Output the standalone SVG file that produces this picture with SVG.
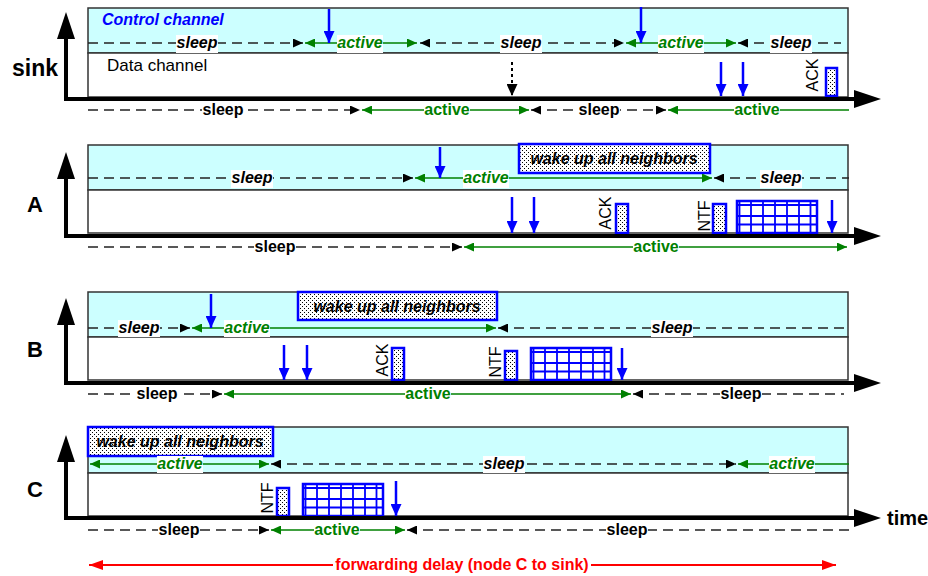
<svg xmlns="http://www.w3.org/2000/svg" xmlns:xlink="http://www.w3.org/1999/xlink" width="928" height="576" viewBox="0 0 928 576">
<defs>
<style>
text{font-family:"Liberation Sans",Arial,Helvetica,sans-serif;}
.cy{fill:#ccffff;stroke:#333;stroke-width:1.5}
.wh{fill:#fff;stroke:#333;stroke-width:1.5}
.d{stroke:#222;stroke-width:1.6;stroke-dasharray:10 6;fill:none}
.g{stroke:#008000;stroke-width:1.6;fill:none}
.bl{stroke:#0000ff;stroke-width:2.5;fill:none;marker-end:url(#mb)}
.ax{stroke:#000;stroke-width:4;fill:none;marker-start:url(#max);marker-end:url(#max)}
.bg{fill:#fff}
.box{fill:url(#dots);stroke:#0000ff;stroke-width:2.5}
.ls{font-size:16px;font-weight:bold;font-style:italic;fill:#000;text-anchor:middle}
.la{font-size:16px;font-weight:bold;font-style:italic;fill:#008000;text-anchor:middle}
.ts{font-size:16px;font-weight:bold;fill:#000;text-anchor:middle}
.ta{font-size:16px;font-weight:bold;fill:#008000;text-anchor:middle}
.nm{font-size:22px;font-weight:bold;fill:#000;text-anchor:middle}
.rt{font-size:16px;fill:#000;text-anchor:middle}
.wk{font-size:16px;font-weight:bold;font-style:italic;fill:#000;text-anchor:middle}
</style>
<pattern id="dots" width="4" height="4" patternUnits="userSpaceOnUse">
<rect width="4" height="4" fill="#fff"/>
<rect x="0" y="0" width="1" height="1" fill="#000"/>
<rect x="2" y="2" width="1" height="1" fill="#000"/>
</pattern>
<marker id="mk" viewBox="0 0 10 9" markerWidth="10" markerHeight="9" refX="10" refY="4.5" orient="auto-start-reverse" markerUnits="userSpaceOnUse"><path d="M0,0L10,4.5L0,9z" fill="#000"/></marker>
<marker id="mg" viewBox="0 0 10 9" markerWidth="10" markerHeight="9" refX="10" refY="4.5" orient="auto-start-reverse" markerUnits="userSpaceOnUse"><path d="M0,0L10,4.5L0,9z" fill="#008000"/></marker>
<marker id="mb" viewBox="0 0 12 11" markerWidth="12" markerHeight="11" refX="12" refY="5.5" orient="auto" markerUnits="userSpaceOnUse"><path d="M0,0L12,5.5L0,11z" fill="#0000ff"/></marker>
<marker id="mkd" viewBox="0 0 12 11" markerWidth="12" markerHeight="11" refX="12" refY="5.5" orient="auto" markerUnits="userSpaceOnUse"><path d="M0,0L12,5.5L0,11z" fill="#000"/></marker>
<marker id="mr" viewBox="0 0 14 10" markerWidth="14" markerHeight="10" refX="14" refY="5" orient="auto-start-reverse" markerUnits="userSpaceOnUse"><path d="M0,0L14,5L0,10z" fill="#ff0000"/></marker>
<marker id="max" viewBox="0 0 27 18" markerWidth="27" markerHeight="18" refX="17" refY="9" orient="auto-start-reverse" markerUnits="userSpaceOnUse"><path d="M0,0L27,9L0,18z" fill="#000"/></marker>
<g id="grid">
<rect x="0" y="0" width="80" height="32" fill="#fff" stroke="#0000ff" stroke-width="2.5"/>
<path d="M2.5,0V32M14,0V32M26,0V32M38,0V32M50,0V32M62,0V32M73.5,0V32M0,4H80M0,15H80M0,23.5H80" stroke="#0000ff" stroke-width="1.8" fill="none"/>
</g>
</defs>

<g id="sink">
<rect class="cy" x="88" y="8" width="760" height="45"/>
<rect class="wh" x="88" y="53" width="760" height="44"/>
<text class="nm" x="35" y="76" style="font-size:23px">sink</text>
<text x="102" y="25" style="font-size:16px;font-weight:bold;font-style:italic;fill:#0000ff">Control channel</text>
<text x="107" y="71" style="font-size:17px;fill:#000">Data channel</text>
<text class="rt" transform="translate(818,75) rotate(-90)">ACK</text>
<rect class="box" x="826" y="68" width="11" height="28"/>
</g>

<g id="nodeA">
<rect class="cy" x="88" y="145" width="760" height="45"/>
<rect class="wh" x="88" y="190" width="760" height="43"/>
<text class="nm" x="35" y="212">A</text>
<rect class="box" x="519" y="144" width="191" height="29"/>
<text class="wk" x="614" y="164">wake up all neighbors</text>
<text class="rt" transform="translate(611,213) rotate(-90)">ACK</text>
<rect class="box" x="616" y="204" width="12" height="29"/>
<text class="rt" transform="translate(710,216) rotate(-90)">NTF</text>
<rect class="box" x="713" y="204" width="13" height="29"/>
<use xlink:href="#grid" href="#grid" x="737" y="201"/>
</g>

<g id="nodeB">
<rect class="cy" x="88" y="292" width="760" height="45"/>
<rect class="wh" x="88" y="337" width="760" height="43"/>
<text class="nm" x="35" y="357">B</text>
<rect class="box" x="298" y="292" width="199" height="28"/>
<text class="wk" x="397" y="312">wake up all neighbors</text>
<text class="rt" transform="translate(388,360) rotate(-90)">ACK</text>
<rect class="box" x="392" y="348" width="12" height="32"/>
<text class="rt" transform="translate(501,362) rotate(-90)">NTF</text>
<rect class="box" x="505" y="351" width="12" height="29"/>
<use xlink:href="#grid" href="#grid" x="531" y="348"/>
</g>

<g id="nodeC">
<rect class="cy" x="88" y="427" width="760" height="46"/>
<rect class="wh" x="88" y="473" width="760" height="43"/>
<text class="nm" x="35" y="497">C</text>
<rect class="box" x="88" y="427" width="185" height="29"/>
<text class="wk" x="180" y="447">wake up all neighbors</text>
<text class="rt" transform="translate(273,498) rotate(-90)">NTF</text>
<rect class="box" x="277" y="488" width="12" height="28"/>
<use xlink:href="#grid" href="#grid" x="303" y="484"/>
</g>

<g id="connectors">
<path class="ax" d="M66,22V99H871"/>
<path class="ax" d="M66,162V236H871"/>
<path class="ax" d="M66,308V383H871"/>
<path class="ax" d="M66,445V518H871"/>
<text x="887" y="525" style="font-size:20px;font-weight:bold;fill:#000">time</text>

<path class="d" d="M88,43H303" marker-end="url(#mk)"/>
<path class="g" d="M305,43H417" marker-start="url(#mg)" marker-end="url(#mg)"/>
<path class="d" d="M420,43H624" marker-start="url(#mk)" marker-end="url(#mk)"/>
<path class="g" d="M626,43H736" marker-start="url(#mg)" marker-end="url(#mg)"/>
<path class="d" d="M738,43H841" marker-start="url(#mk)"/>
<rect class="bg" x="176" y="35" width="42" height="18"/><text class="ls" x="197" y="48">sleep</text>
<rect class="bg" x="337" y="35" width="46" height="18"/><text class="la" x="360" y="48">active</text>
<rect class="bg" x="500" y="35" width="42" height="18"/><text class="ls" x="521" y="48">sleep</text>
<rect class="bg" x="658" y="35" width="46" height="18"/><text class="la" x="681" y="48">active</text>
<rect class="bg" x="770" y="35" width="42" height="18"/><text class="ls" x="791" y="48">sleep</text>
<path class="bl" d="M329,9V43"/>
<path class="bl" d="M641,7V43"/>
<path d="M512,62V96" stroke="#000" stroke-width="2" stroke-dasharray="3 3" fill="none" marker-end="url(#mkd)"/>
<path class="bl" d="M721,62V96"/>
<path class="bl" d="M743,62V96"/>
<path class="d" d="M88,110H360" marker-end="url(#mk)"/>
<path class="g" d="M362,110H529" marker-start="url(#mg)" marker-end="url(#mg)"/>
<path class="d" d="M531,110H666" marker-start="url(#mk)" marker-end="url(#mk)"/>
<path class="g" d="M668,110H849" marker-start="url(#mg)"/>
<rect class="bg" x="202" y="102" width="42" height="18"/><text class="ts" x="223" y="115">sleep</text>
<rect class="bg" x="424" y="102" width="46" height="18"/><text class="ta" x="447" y="115">active</text>
<rect class="bg" x="578" y="102" width="42" height="18"/><text class="ts" x="599" y="115">sleep</text>
<rect class="bg" x="734" y="102" width="46" height="18"/><text class="ta" x="757" y="115">active</text>

<path class="d" d="M88,178H413" marker-end="url(#mk)"/>
<path class="g" d="M415,178H712" marker-start="url(#mg)" marker-end="url(#mg)"/>
<path class="d" d="M714,178H849" marker-start="url(#mk)"/>
<rect class="bg" x="231" y="170" width="42" height="18"/><text class="ls" x="252" y="183">sleep</text>
<rect class="bg" x="463" y="170" width="46" height="18"/><text class="la" x="486" y="183">active</text>
<rect class="bg" x="760" y="170" width="42" height="18"/><text class="ls" x="781" y="183">sleep</text>
<path class="bl" d="M440,147V178"/>
<path class="bl" d="M512,197V233"/>
<path class="bl" d="M534,197V233"/>
<path class="bl" d="M832,200V233"/>
<path class="d" d="M88,247H462" marker-end="url(#mk)"/>
<path class="g" d="M464,247H847" marker-start="url(#mg)" marker-end="url(#mg)"/>
<rect class="bg" x="254" y="239" width="42" height="18"/><text class="ts" x="275" y="252">sleep</text>
<rect class="bg" x="633" y="239" width="46" height="18"/><text class="ta" x="656" y="252">active</text>

<path class="d" d="M88,328H190" marker-end="url(#mk)"/>
<path class="g" d="M192,328H496" marker-start="url(#mg)" marker-end="url(#mg)"/>
<path class="d" d="M498,328H849" marker-start="url(#mk)"/>
<rect class="bg" x="118" y="320" width="42" height="17"/><text class="ls" x="139" y="333">sleep</text>
<rect class="bg" x="224" y="320" width="46" height="17"/><text class="la" x="247" y="333">active</text>
<rect class="bg" x="651" y="320" width="42" height="17"/><text class="ls" x="672" y="333">sleep</text>
<path class="bl" d="M211,294V328"/>
<path class="bl" d="M284,345V380"/>
<path class="bl" d="M307,345V380"/>
<path class="bl" d="M622,348V380"/>
<path class="d" d="M88,394H222" marker-end="url(#mk)"/>
<path class="g" d="M224,394H631" marker-start="url(#mg)" marker-end="url(#mg)"/>
<path class="d" d="M633,394H844" marker-start="url(#mk)"/>
<rect class="bg" x="136" y="386" width="42" height="18"/><text class="ts" x="157" y="399">sleep</text>
<rect class="bg" x="405" y="386" width="46" height="18"/><text class="ta" x="428" y="399">active</text>
<rect class="bg" x="720" y="386" width="42" height="18"/><text class="ts" x="741" y="399">sleep</text>

<path class="g" d="M90,464H269" marker-start="url(#mg)" marker-end="url(#mg)"/>
<path class="d" d="M271,464H736" marker-start="url(#mk)" marker-end="url(#mk)"/>
<path class="g" d="M738,464H849" marker-start="url(#mg)"/>
<rect class="bg" x="157" y="456" width="46" height="17"/><text class="la" x="180" y="469">active</text>
<rect class="bg" x="483" y="456" width="42" height="17"/><text class="ls" x="504" y="469">sleep</text>
<rect class="bg" x="769" y="456" width="46" height="17"/><text class="la" x="792" y="469">active</text>
<path class="bl" d="M396,481V516"/>
<path class="d" d="M88,530H269" marker-end="url(#mk)"/>
<path class="g" d="M271,530H405" marker-start="url(#mg)" marker-end="url(#mg)"/>
<path class="d" d="M407,530H849" marker-start="url(#mk)"/>
<rect class="bg" x="158" y="522" width="42" height="18"/><text class="ts" x="179" y="535">sleep</text>
<rect class="bg" x="314" y="522" width="46" height="18"/><text class="ta" x="337" y="535">active</text>
<rect class="bg" x="606" y="522" width="42" height="18"/><text class="ts" x="627" y="535">sleep</text>

<path d="M89,565H836" stroke="#ff0000" stroke-width="2" fill="none" marker-start="url(#mr)" marker-end="url(#mr)"/>
<rect class="bg" x="333" y="556" width="258" height="19"/>
<text x="462" y="570" style="font-size:16px;font-weight:bold;fill:#ff0000;text-anchor:middle">forwarding delay (node C to sink)</text>
</g>
</svg>
